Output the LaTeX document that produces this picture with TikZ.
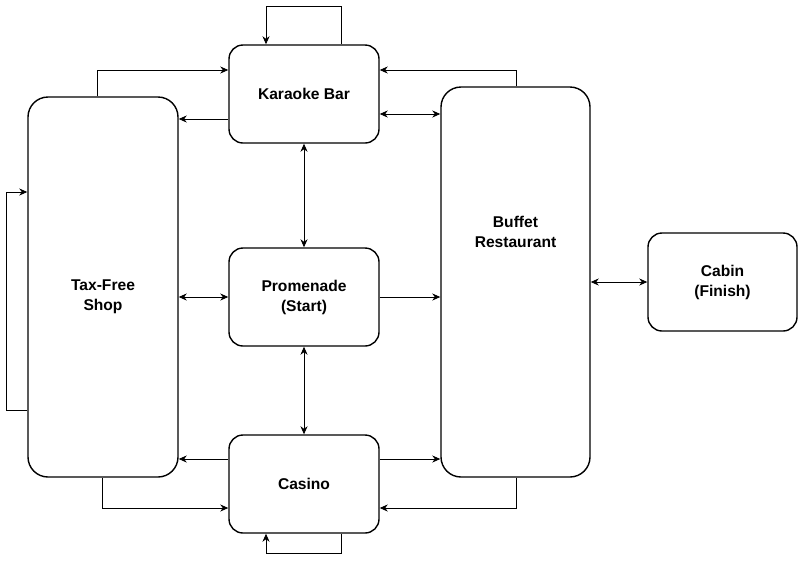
\documentclass[tikz,border=0pt]{standalone}
\usepackage{fontspec}
\setmainfont{Liberation Sans}
\usetikzlibrary{arrows.meta,calc}
\begin{document}
\begin{tikzpicture}[x=1pt,y=-1pt,
  lbl/.style={align=center, font=\bfseries\fontsize{15.6}{20}\selectfont},
  box/.style={draw, line width=1.4pt, rounded corners=14pt, lbl, inner sep=0pt, minimum width=150pt, minimum height=98pt},
  tall/.style={box, rounded corners=20pt},
  tip/.tip={Stealth[length=8pt,width=7pt,inset=2.5pt]},
  conn/.style={line width=0.9pt, -tip},
  both/.style={line width=0.9pt, tip-tip}]
\useasboundingbox (0,0) rectangle (799,563);

\node[box] (kb) at (304,94) {Karaoke Bar};
\node[tall, minimum width=150pt, minimum height=380pt,
  label={[lbl, yshift=-10pt]center:Tax-Free\\Shop}] (tf) at (103,287) {};
\node[tall, minimum width=149pt, minimum height=390pt,
  label={[lbl, yshift=50pt]center:Buffet\\Restaurant}] (bf) at (515.5,282) {};
\node[box] (pr) at (304,297) {Promenade\\(Start)};
\node[box] (cs) at (304,484) {Casino};
\node[box, minimum width=149pt] (cb) at (722.5,282) {Cabin\\(Finish)};

% Karaoke self loop
\draw[conn] ([xshift=37pt]kb.north) -- ++(0,-38) -| ([xshift=-38pt]kb.north);
% Tax-Free -> Karaoke
\draw[conn] ([xshift=-6pt]tf.north) |- ([yshift=24pt]kb.west);
% Karaoke -> Tax-Free
\coordinate (k1) at ([yshift=-25pt]kb.west);
\draw[conn] (k1) -- (k1 -| tf.east);
% Buffet -> Karaoke
\draw[conn] ([xshift=0.5pt]bf.north) |- ([yshift=24pt]kb.east);
% Karaoke <-> Buffet
\coordinate (k2) at ([yshift=-20pt]kb.east);
\draw[both] (k2) -- (k2 -| bf.west);
% Karaoke <-> Promenade
\draw[both] (kb.south) -- (pr.north);
% Tax-Free <-> Promenade
\draw[both] (pr.west) -- (pr.west -| tf.east);
% Promenade -> Buffet
\draw[conn] (pr.east) -- (pr.east -| bf.west);
% Buffet <-> Cabin
\draw[both] (bf.east) -- (cb.west);
% Promenade <-> Casino
\draw[both] (pr.south) -- (cs.north);
% Tax-Free self loop
\draw[conn] ([yshift=-123pt]tf.west) -- ++(-21,0) |- ([yshift=95pt]tf.west);
% Casino -> Tax-Free
\coordinate (c1) at ([yshift=25pt]cs.west);
\draw[conn] (c1) -- (c1 -| tf.east);
% Casino -> Buffet
\coordinate (c2) at ([yshift=25pt]cs.east);
\draw[conn] (c2) -- (c2 -| bf.west);
% Tax-Free -> Casino
\draw[conn] ([xshift=-1pt]tf.south) |- ([yshift=-24pt]cs.west);
% Buffet -> Casino
\draw[conn] ([xshift=0.5pt]bf.south) |- ([yshift=-24pt]cs.east);
% Casino self loop
\draw[conn] ([xshift=37pt]cs.south) -- ++(0,20) -| ([xshift=-38pt]cs.south);
\end{tikzpicture}
\end{document}
